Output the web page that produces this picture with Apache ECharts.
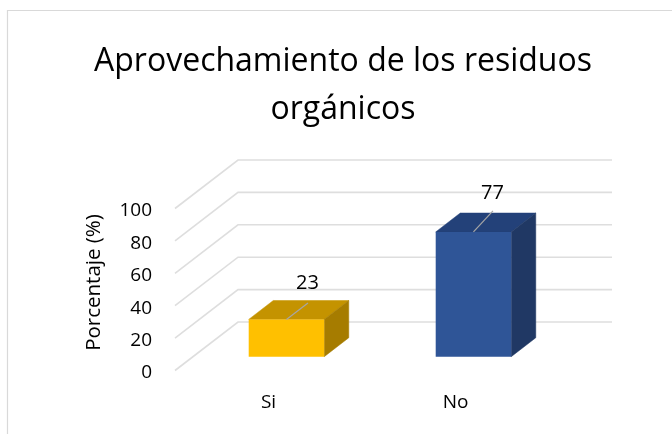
<!DOCTYPE html>
<html><head><meta charset="utf-8">
<style>html,body{margin:0;padding:0;background:#fff}#c{width:672px;height:434px}</style>
<script src="https://cdn.jsdelivr.net/npm/echarts@6/dist/echarts.min.js"></script>
</head><body><div id="c"></div>
<script>
const categories = ['Si', 'No'];
const values = [23, 77];
const yTicks = [0, 20, 40, 60, 80, 100];
const frontColors = ['#FFC000', '#2F5597'];
const topColors = ['#C49300', '#234179'];
const sideColors = ['#A67C00', '#203864'];

const FONT = 'Open Sans';
const WALL = [63, -48.5];      // depth of the floor, px
const BAR_START = 0.285;       // bar's front face along the depth
const BAR_DEPTH = 0.39;
const BAR_W = 75.5;
const LEADER = [[21.5, -16.5], [19.5, -21]];
const LABEL_GAP = [[21, -36], [19, -39]];

const chart = echarts.init(document.getElementById('c'));
chart.setOption({
  animation: false,
  backgroundColor: '#fff',
  title: {
    text: 'Aprovechamiento de los residuos\norgánicos',
    left: 338, top: 33, textAlign: 'center',
    textStyle: { fontFamily: FONT, fontSize: 32, fontWeight: 'normal', color: '#000', lineHeight: 48 }
  },
  graphic: [
    { type: 'polyline', silent: true, shape: { points: [[7.5, 434], [7.5, 10.5], [672, 10.5]] },
      style: { stroke: '#D9D9D9', lineWidth: 1.2, fill: null } }
  ],
  grid: { left: 175, top: 208.5, width: 374, height: 162 },
  xAxis: {
    type: 'category', data: categories,
    axisLine: { show: false }, axisTick: { show: false },
    axisLabel: { fontFamily: FONT, fontSize: 19, color: '#000', margin: 23 }
  },
  yAxis: {
    type: 'value', min: 0, max: 100, interval: 20,
    name: 'Porcentaje (%)', nameLocation: 'middle', nameGap: 70, nameRotate: 90,
    nameTextStyle: { fontFamily: FONT, fontSize: 20.5, color: '#000', padding: [0, 0, 0, 14] },
    axisLine: { show: false }, axisTick: { show: false }, splitLine: { show: false },
    axisLabel: { fontFamily: FONT, fontSize: 19, color: '#000', margin: 23, verticalAlign: 'top', lineHeight: 5 }
  },
  series: [
    {
      type: 'custom', silent: true, z: 1,
      coordinateSystem: 'cartesian2d',
      encode: { y: 0 },
      data: yTicks.map(v => [v]),
      renderItem(params, api) {
        const y = api.coord([0, api.value(0)])[1];
        const cs = params.coordSys;
        return {
          type: 'polyline',
          shape: { points: [[cs.x, y], [cs.x + WALL[0], y + WALL[1]], [cs.x + cs.width + WALL[0], y + WALL[1]]] },
          style: { stroke: '#DEDEDE', lineWidth: 1.6, fill: null }
        };
      }
    },
    {
      type: 'custom', silent: true, z: 2,
      coordinateSystem: 'cartesian2d',
      encode: { x: 0, y: 1 },
      data: categories.map((c, i) => [i, values[i]]),
      renderItem(params, api) {
        const i = params.dataIndex;
        const top0 = api.coord([api.value(0), api.value(1)]);
        const base0 = api.coord([api.value(0), 0]);
        const sx = WALL[0] * BAR_START, sy = WALL[1] * BAR_START;
        const dx = WALL[0] * BAR_DEPTH, dy = WALL[1] * BAR_DEPTH;
        const cx = top0[0] + sx, yt = top0[1] + sy, yb = base0[1] + sy;
        const l = cx - BAR_W / 2, r = cx + BAR_W / 2;
        return {
          type: 'group',
          children: [
            { type: 'polygon', shape: { points: [[l, yt], [r, yt], [r + dx, yt + dy], [l + dx, yt + dy]] }, style: { fill: topColors[i], stroke: topColors[i], lineWidth: 0.5 } },
            { type: 'polygon', shape: { points: [[r, yt], [r + dx, yt + dy], [r + dx, yb + dy], [r, yb]] }, style: { fill: sideColors[i], stroke: sideColors[i], lineWidth: 0.5 } },
            { type: 'rect', shape: { x: l, y: yt, width: BAR_W, height: yb - yt }, style: { fill: frontColors[i] } },
            { type: 'line', shape: { x1: cx, y1: yt, x2: cx + LEADER[i][0], y2: yt + LEADER[i][1] }, style: { stroke: '#A6A6A6', lineWidth: 1.2 } },
            { type: 'text', x: cx + LABEL_GAP[i][0], y: yt + LABEL_GAP[i][1],
              style: { text: String(values[i]), fontFamily: FONT, fontSize: 20, fill: '#000', align: 'center', verticalAlign: 'middle' } }
          ]
        };
      }
    }
  ]
});
</script></body></html>
